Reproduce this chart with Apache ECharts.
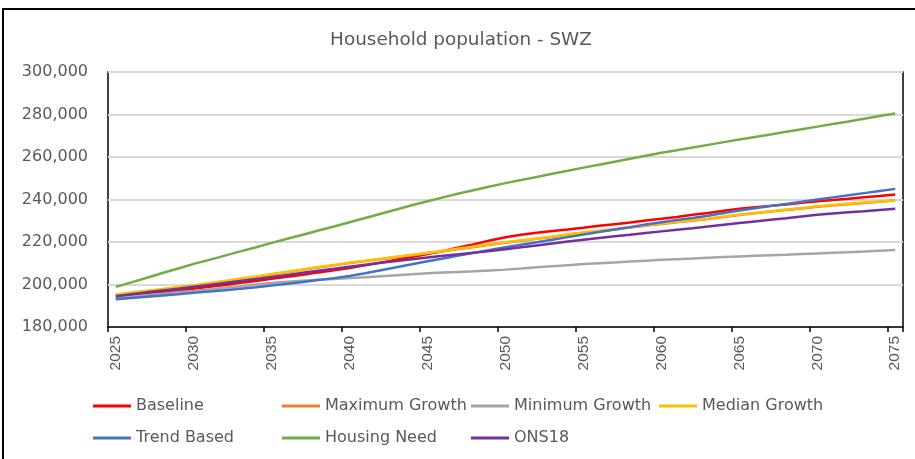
<!DOCTYPE html>
<html>
<head>
<meta charset="utf-8">
<script src="https://cdn.jsdelivr.net/npm/echarts@6/dist/echarts.min.js"></script>
<style>
  html, body { margin: 0; padding: 0; background: #fff; }
  #chart { width: 915px; height: 459px; }
</style>
</head>
<body>
<div id="chart"></div>
<script>
const years = [];
for (let y = 2025; y <= 2075; y++) years.push(String(y));

const baseline = [194200,195000,195800,196500,197300,198000,198900,199800,200800,201700,
  202700,203600,204600,205700,206700,207800,209000,210300,211600,212900,
  214300,215800,217400,219000,220700,222200,223400,224300,225200,225900,
  226700,227600,228400,229200,230100,230900,231800,232800,233700,234700,
  235600,236300,237000,237700,238500,239200,239800,240400,241100,241700,242400];

const maximumGrowth = [195100,196000,196900,197700,198600,199400,200500,201500,202600,203600,
  204700,205800,206900,208000,209000,210100,211000,211900,212900,213800,
  214700,215700,216700,217700,218700,219700,220600,221500,222400,223400,
  224300,225100,225900,226800,227600,228500,229300,230000,230800,231800,
  232700,233500,234300,235100,235800,236600,237200,237800,238400,238900,239500];

const minimumGrowth = [193600,194300,195000,195600,196300,196900,197700,198500,199200,200000,
  200700,201300,201800,202200,202600,203000,203400,203900,204400,204800,
  205300,205600,205900,206200,206600,207000,207500,208100,208600,209100,
  209600,210000,210400,210800,211200,211600,211900,212200,212600,212900,
  213200,213500,213800,214000,214300,214600,214900,215200,215500,215900,216200];

const medianGrowth = [195300,196200,197100,197900,198800,199600,200700,201700,202800,203800,
  204900,206000,207100,208200,209200,210300,211200,212100,213100,214000,
  214900,215900,216900,217900,218900,219900,220800,221700,222600,223600,
  224500,225300,226100,227000,227800,228700,229500,230200,231000,232000,
  232900,233700,234500,235300,236000,236800,237400,238000,238600,239100,239700];

const trendBased = [193100,193600,194200,194800,195400,196100,196700,197300,198000,198700,
  199500,200300,201200,202100,203000,204000,205300,206700,208100,209500,
  210900,212200,213600,214900,216200,217500,218700,219900,221100,222300,
  223500,224700,225900,227000,228200,229300,230300,231300,232400,233600,
  234800,235900,236900,237900,238900,240000,241000,242000,243000,244000,245000];

const housingNeed = [198900,201000,203200,205400,207500,209700,211600,213600,215600,217500,
  219600,221500,223400,225400,227300,229300,231300,233300,235300,237300,
  239200,241000,242800,244500,246100,247700,249200,250600,252100,253500,
  255000,256400,257800,259200,260600,262000,263200,264500,265700,267000,
  268200,269400,270600,271900,273100,274300,275500,276700,278000,279300,280500];

const ons18 = [194500,195400,196300,197200,198000,198900,199800,200700,201700,202600,
  203500,204500,205500,206500,207400,208400,209300,210200,211000,211900,
  212700,213500,214200,215000,215800,216600,217500,218400,219300,220200,
  221100,221900,222700,223400,224200,225000,225800,226500,227300,228100,
  228900,229700,230500,231200,232000,232800,233400,234000,234500,235100,235700];

const seriesNames = ['Baseline','Maximum Growth','Minimum Growth','Median Growth','Trend Based','Housing Need','ONS18'];
const seriesData = [baseline, maximumGrowth, minimumGrowth, medianGrowth, trendBased, housingNeed, ons18];
const seriesColors = ['#FF0000','#ED7D31','#A5A5A5','#FFC000','#4472C4','#70AD47','#7030A0'];

const yTicks = { min: 180000, max: 300000, interval: 20000 };

const legendPos = [
  {left: 93, top: 398}, {left: 282, top: 398}, {left: 471, top: 398}, {left: 659, top: 398},
  {left: 93, top: 430}, {left: 282, top: 430}, {left: 471, top: 430}
];

const chart = echarts.init(document.getElementById('chart'), null, {renderer: 'canvas'});
const textColor = '#595959';
const option = {
  animation: false,
  backgroundColor: '#fff',
  graphic: [
    { type: 'rect', shape: {x: 3, y: 9, width: 940, height: 480}, style: {fill: 'none', stroke: '#000', lineWidth: 2}, silent: true },
    { type: 'text', x: 461, y: 40, style: { text: 'Household population - SWZ', fill: textColor, font: '18.4px "DejaVu Sans"', textAlign: 'center', textVerticalAlign: 'middle' } }
  ],
  grid: { left: 108, right: 12, top: 72, bottom: 132, show: true, borderColor: '#000', borderWidth: 1.5, backgroundColor: 'transparent' },
  legend: seriesNames.map((n, i) => ({
    data: [n], left: legendPos[i].left, top: legendPos[i].top, padding: 0,
    icon: 'rect', itemWidth: 38, itemHeight: 3,
    textStyle: { fontFamily: 'DejaVu Sans', fontSize: 16, color: textColor }
  })),
  xAxis: {
    type: 'category', data: years, boundaryGap: true,
    axisLine: { show: true, lineStyle: { color: '#000', width: 1.5 } },
    axisTick: { show: true, interval: 4, length: 5, lineStyle: { color: '#000', width: 1.5 } },
    axisLabel: { interval: 4, rotate: 90, margin: 9, color: textColor, fontFamily: 'Liberation Sans', fontSize: 15.5 },
    splitLine: { show: false }
  },
  yAxis: {
    type: 'value', min: yTicks.min, max: yTicks.max, interval: yTicks.interval,
    axisLine: { show: false }, axisTick: { show: false },
    axisLabel: { margin: 20, color: textColor, fontFamily: 'DejaVu Sans', fontSize: 16,
      formatter: v => v.toLocaleString('en-US') },
    splitLine: { show: true, lineStyle: { color: '#D9D9D9', width: 2 } }
  },
  series: seriesNames.map((n, i) => ({
    name: n, type: 'line', data: seriesData[i], showSymbol: false, symbol: 'none',
    lineStyle: { color: seriesColors[i], width: 2.5 }, itemStyle: { color: seriesColors[i] },
    z: 2
  }))
};
chart.setOption(option);
</script>
</body>
</html>
